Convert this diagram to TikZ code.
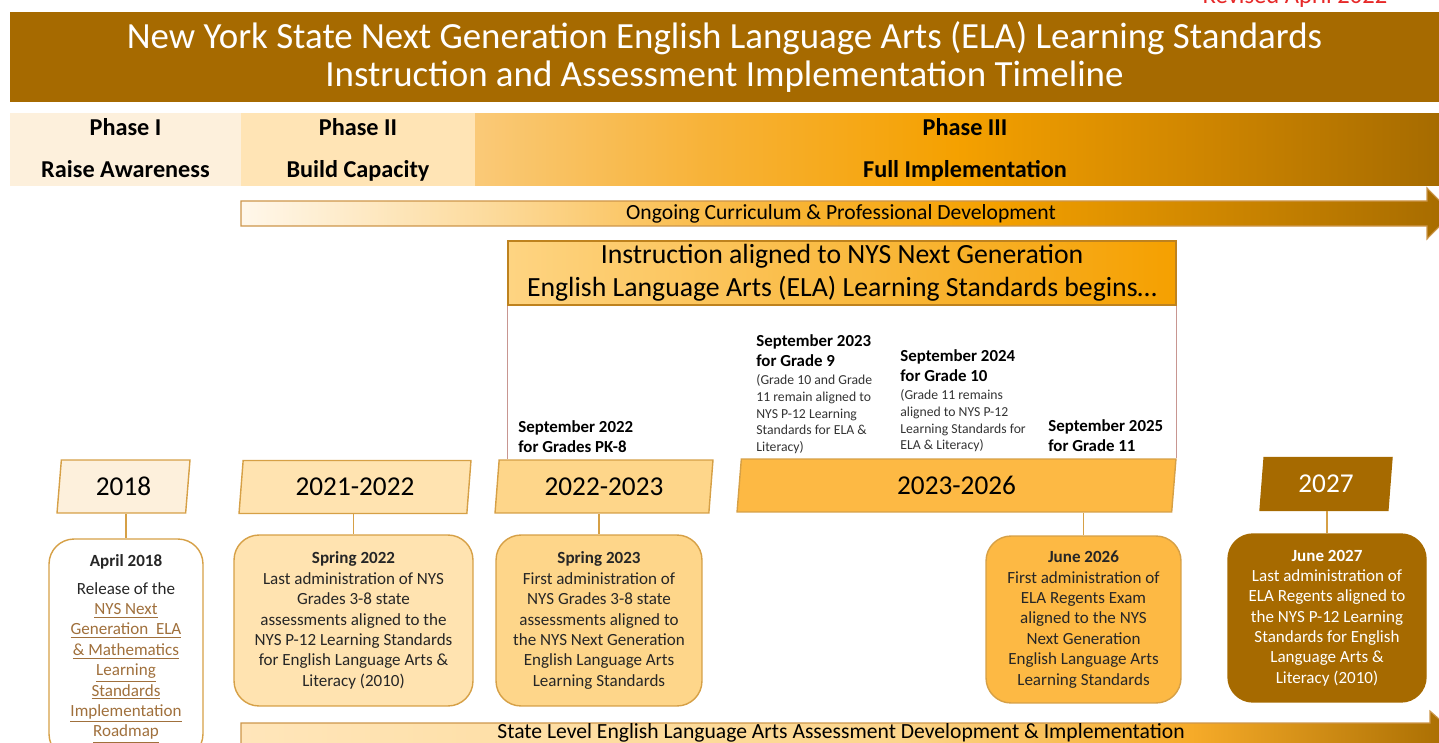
\documentclass[tikz,border=0pt]{standalone}
\usepackage{fontspec}
\setmainfont{Carlito}
\usetikzlibrary{shapes.geometric}

\definecolor{darkgold}{RGB}{166,106,0}
\definecolor{phaseone}{RGB}{253,240,220}
\definecolor{phasetwo}{RGB}{255,228,181}
\definecolor{brightorange}{RGB}{245,160,0}
\definecolor{instrleft}{RGB}{254,212,130}
\definecolor{instredge}{RGB}{190,130,30}
\definecolor{yearlight}{RGB}{255,227,176}
\definecolor{yearmid}{RGB}{254,214,138}
\definecolor{yeardeep}{RGB}{253,185,68}
\definecolor{goldline}{RGB}{214,160,70}
\definecolor{framepink}{RGB}{200,150,145}
\definecolor{linkbrown}{RGB}{160,112,60}
\definecolor{edgebrown}{RGB}{205,150,75}
\definecolor{revisedred}{RGB}{230,40,40}

\pgfdeclarehorizontalshading{phaseshade}{100bp}{rgb(0bp)=(0.98,0.79,0.47); rgb(25bp)=(0.98,0.79,0.47); rgb(37bp)=(0.97,0.7,0.22); rgb(50bp)=(0.96,0.63,0); rgb(62bp)=(0.82,0.53,0); rgb(75bp)=(0.65,0.42,0); rgb(100bp)=(0.65,0.42,0)}
\pgfdeclarehorizontalshading{ongoingshade}{100bp}{rgb(0bp)=(1,0.97,0.92); rgb(25bp)=(1,0.97,0.92); rgb(35bp)=(0.99,0.86,0.62); rgb(44bp)=(0.98,0.74,0.3); rgb(56bp)=(0.96,0.63,0); rgb(75bp)=(0.65,0.42,0); rgb(100bp)=(0.65,0.42,0)}
\pgfdeclarehorizontalshading{assessshade}{100bp}{rgb(0bp)=(1,0.9,0.73); rgb(25bp)=(1,0.9,0.73); rgb(52bp)=(0.99,0.84,0.55); rgb(64bp)=(0.965,0.67,0.16); rgb(75bp)=(0.65,0.42,0); rgb(100bp)=(0.65,0.42,0)}

\newcommand{\linktext}[1]{\textcolor{linkbrown}{\underline{#1}}}

\tikzset{
  titlebar/.style={fill=darkgold, text=white, minimum width=28.58cm, minimum height=1.8cm,
    align=center, inner sep=0pt, font=\fontsize{21}{22}\selectfont},
  phasebox/.style={minimum height=1.46cm, align=center, inner sep=0pt,
    font=\bfseries\fontsize{13.8}{23.8}\selectfont},
  bartext/.style={inner sep=0pt, font=\fontsize{12.3}{14}\selectfont},
  instrbox/.style={minimum width=13.36cm, minimum height=1.28cm, left color=instrleft,
    right color=brightorange, draw=instredge, line width=0.8pt, align=center, inner sep=0pt,
    font=\fontsize{15.8}{18.7}\selectfont},
  yearbox/.style={trapezium, trapezium stretches body, trapezium left angle=77,
    trapezium right angle=103, draw=goldline, line width=0.8pt, minimum height=1.06cm,
    inner sep=0pt, font=\fontsize{15.5}{18}\selectfont},
  datehead/.style={anchor=north west, align=left, inner sep=0pt,
    font=\bfseries\fontsize{9.6}{11.3}\selectfont},
  smallnote/.style={anchor=north west, align=left, inner sep=0pt, text=black!80,
    font=\fontsize{7.8}{9.6}\selectfont},
  eventbox/.style={draw=goldline, line width=0.8pt, rounded corners=0.5cm, align=center,
    inner sep=0pt, text=black!85, font=\fontsize{9.7}{11.6}\selectfont},
  stem/.style={draw=goldline, line width=0.8pt},
  revised/.style={text=revisedred, inner sep=0pt, font=\fontsize{14}{16}\selectfont}
}

\begin{document}
\begin{tikzpicture}[x=0.02cm, y=-0.02cm]
  \useasboundingbox (0,0) rectangle (1439,743);

  % Revision note, cut by the top edge
  \node[revised, anchor=base] (rev) at (1295,4) {Revised April 2022};

  % Title band
  \node[titlebar] (title) at (724.5,57) {New York State Next Generation English Language Arts (ELA) Learning Standards\\Instruction and Assessment Implementation Timeline};

  % Phases
  \node[phasebox, fill=phaseone, minimum width=4.62cm] (p1) at (125.5,149.5) {Phase I\\Raise Awareness\vphantom{p}};
  \node[phasebox, fill=phasetwo, minimum width=4.68cm] (p2) at (358,149.5) {Phase II\\Build Capacity};
  \node[phasebox, shading=phaseshade, minimum width=19.28cm] (p3) at (957,149.5) {\hspace{0.32cm}Phase III\\\hspace{0.32cm}Full Implementation};

  % Ongoing arrow
  \shadedraw[shading=ongoingshade, draw=edgebrown, line width=0.6pt]
    (241,201) -- (1427,201) -- (1427,188) -- (1452,213.5) -- (1427,239) -- (1427,226) -- (241,226) -- cycle;
  \node[bartext] (ongoing) at (841,214) {Ongoing Curriculum \& Professional Development};

  % Instruction band and its frame
  \node[instrbox] (instr) at (842,273) {Instruction aligned to NYS Next Generation\\English Language Arts (ELA) Learning Standards begins…};

  % Year boxes
  \node[yearbox, fill=phaseone, minimum width=2.66cm] (y18) at (123.5,486.5) {2018};
  \node[yearbox, fill=yearlight, minimum width=4.64cm] (y2122) at (355,487) {2021-2022};
  \node[yearbox, fill=yearmid, minimum width=4.36cm] (y2223) at (604,486.5) {2022-2023};
  \node[yearbox, fill=yeardeep, minimum width=8.78cm] (y2326) at (956.5,485.5) {2023-2026};
  \node[yearbox, fill=darkgold, draw=darkgold, text=white, minimum width=2.64cm] (y27) at (1326,484) {2027};

  \draw[framepink, line width=0.6pt] (instr.south west) -- (instr.south west |- y2223.north);
  \draw[framepink, line width=0.6pt] (instr.south east) -- (instr.south east |- y2326.north);

  % Start dates
  \node[datehead] (s22) at (518,420) {September 2022\\for Grades PK-8};
  \node[datehead] (s23) at (756,334) {September 2023\\for Grade 9};
  \node[smallnote] (n23) at (756,374) {(Grade 10 and Grade\\11 remain aligned to\\NYS P-12 Learning\\Standards for ELA \&\\Literacy)};
  \node[datehead] (s24) at (900,349) {September 2024\\for Grade 10};
  \node[smallnote] (n24) at (900,389) {(Grade 11 remains\\aligned to NYS P-12\\Learning Standards for\\ELA \& Literacy)};
  \node[datehead] (s25) at (1048,419) {September 2025\\for Grade 11};

  % Events
  \node[eventbox, fill=white, minimum width=3.08cm, minimum height=4.4cm] (ev18) at (126,649)
    {\textbf{April 2018}\\[4pt]Release of the\\\linktext{NYS Next}\\\linktext{Generation~ ELA}\\\linktext{\& Mathematics}\\\linktext{Learning}\\\linktext{Standards}\\\linktext{Implementation}\\\linktext{Roadmap}};
  \node[eventbox, fill=yearlight, minimum width=4.78cm, minimum height=3.42cm] (ev22) at (353.5,620.5)
    {\textbf{Spring 2022}\\Last administration of NYS\\Grades 3-8 state\\assessments aligned to the\\NYS P-12 Learning Standards\\for English Language Arts \&\\Literacy (2010)};
  \node[eventbox, fill=yearmid, minimum width=4.12cm, minimum height=3.42cm] (ev23) at (599,620.5)
    {\textbf{Spring 2023}\\First administration of\\NYS Grades 3-8 state\\assessments aligned to\\the NYS Next Generation\\English Language Arts\\Learning Standards};
  \node[eventbox, fill=yeardeep, minimum width=3.9cm, minimum height=3.34cm] (ev26) at (1083.5,619.5)
    {\textbf{June 2026}\\First administration of\\ELA Regents Exam\\aligned to the NYS\\Next Generation\\English Language Arts\\Learning Standards};
  \node[eventbox, fill=darkgold, draw=darkgold, text=white, minimum width=3.96cm, minimum height=3.36cm] (ev27) at (1327,618)
    {\textbf{June 2027}\\Last administration of\\ELA Regents aligned to\\the NYS P-12 Learning\\Standards for English\\Language Arts \&\\Literacy (2010)};

  % Stems from years to events
  \draw[stem] (ev18.north |- y18.south) -- (ev18.north);
  \draw[stem] (ev22.north |- y2122.south) -- (ev22.north);
  \draw[stem] (ev23.north |- y2223.south) -- (ev23.north);
  \draw[stem] (ev26.north |- y2326.south) -- (ev26.north);
  \draw[stem] (ev27.north |- y27.south) -- (ev27.north);

  % Assessment arrow at the bottom
  \shadedraw[shading=assessshade, draw=edgebrown, line width=0.6pt]
    (241,723) -- (1430,723) -- (1430,711) -- (1460,737.5) -- (1430,764) -- (1430,752) -- (241,752) -- cycle;
  \node[bartext] (assess) at (841,733) {State Level English Language Arts Assessment Development \& Implementation};
\end{tikzpicture}
\end{document}
